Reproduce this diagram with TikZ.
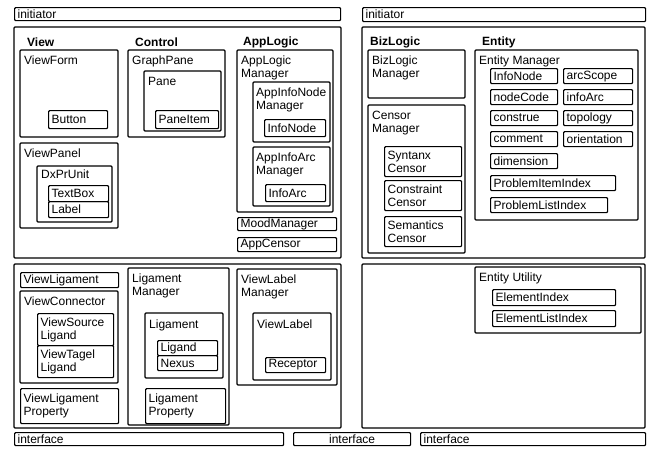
\documentclass[tikz,border=0pt]{standalone}
\usepackage{fontspec}
\setmainfont{Liberation Sans}
\begin{document}
\begin{tikzpicture}[x=1pt,y=-1pt,
  every node/.style={font=\fontsize{12}{13}\selectfont},
  box/.style={line width=1.2pt,rounded corners=1pt},
  lbl/.style={anchor=north west,inner sep=1pt,align=left},
  head/.style={anchor=west,inner sep=0pt,font=\fontsize{12}{13}\selectfont\bfseries},
  item/.style={draw,line width=1.2pt,rounded corners=1pt,anchor=north west,inner xsep=3pt,inner ysep=0pt,align=left}]
\useasboundingbox (0,0) rectangle (651,450);
% bars
\node[item,text width=320pt,minimum height=13pt] (initL) at (14,7) {initiator};
\node[item,text width=277pt,minimum height=14pt] (initR) at (362,7) {initiator};
\node[item,text width=263pt,minimum height=13pt] (ifaceL) at (14,432) {interface};
\node[item,text width=111pt,minimum height=13pt,align=center] (ifaceM) at (293,432) {interface};
\node[item,text width=219pt,minimum height=13pt] (ifaceR) at (420,432) {interface};
% panels
\draw[box] (14,27) rectangle (341,258); \draw[box] (362,27) rectangle (645,258);
\draw[box] (14,264) rectangle (341,428); \draw[box] (362,264) rectangle (645,428);
\node[head] (hview) at (27,42) {View}; \node[head] (hctrl) at (135,42) {Control};
\node[head] (happ) at (243,42) {AppLogic}; \node[head] (hbiz) at (370,42) {BizLogic};
\node[head] (hent) at (482,42) {Entity};
% view / control
\draw[box] (20,50) rectangle (118,137); \node[lbl] (viewform) at (23,55) {ViewForm};
\node[item,text width=53pt,minimum height=18pt] (button) at (48,110) {Button};
\draw[box] (20,143) rectangle (118,228); \node[lbl] (viewpanel) at (23,148) {ViewPanel};
\draw[box] (37,166) rectangle (112,222); \node[lbl] (dxprunit) at (40,169) {DxPrUnit};
\node[item,text width=54pt,minimum height=16pt] (textbox) at (48,185) {TextBox};
\node[item,text width=54pt,minimum height=16pt] (label) at (48,201) {Label};
\draw[box] (128,50) rectangle (225,137); \node[lbl] (graphpane) at (131,55) {GraphPane};
\draw[box] (144,71) rectangle (221,131); \node[lbl] (pane) at (147,76) {Pane};
\node[item,text width=57pt,minimum height=18pt] (paneitem) at (155,110) {PaneItem};
% applogic
\draw[box] (237,50) rectangle (333,212); \node[lbl] (applogicmgr) at (240,55) {AppLogic\\Manager};
\draw[box] (253,82) rectangle (330,142); \node[lbl] (appnodemgr) at (255,87) {AppInfoNode\\Manager};
\node[item,text width=55pt,minimum height=17pt] (infonode) at (264,119) {InfoNode};
\draw[box] (253,147) rectangle (330,206); \node[lbl] (apparcmgr) at (255,152) {AppInfoArc\\Manager};
\node[item,text width=54pt,minimum height=17pt] (infoarc) at (265,184) {InfoArc};
\node[item,text width=93pt,minimum height=13pt] (moodmgr) at (237,217) {MoodManager};
\node[item,text width=93pt,minimum height=14pt] (appcensor) at (237,237) {AppCensor};
% ligament
\node[item,text width=92pt,minimum height=15pt] (viewlig) at (20,272) {ViewLigament};
\draw[box] (20,291) rectangle (118,383); \node[lbl] (viewconn) at (23,296) {ViewConnector};
\node[item,text width=70pt,minimum height=32pt] (viewsrc) at (37,313) {ViewSource\\Ligand};
\node[item,text width=70pt,minimum height=32pt] (viewtgt) at (37,345) {ViewTagel\\Ligand};
\node[item,text width=92pt,minimum height=35pt] (viewligprop) at (20,388) {ViewLigament\\Property};
\draw[box] (128,268) rectangle (229,425); \node[lbl] (ligmgr) at (131,273) {Ligament\\Manager};
\draw[box] (145,313) rectangle (223,378); \node[lbl] (ligament) at (148,319) {Ligament};
\node[item,text width=54pt,minimum height=15pt] (ligand) at (157,340) {Ligand};
\node[item,text width=54pt,minimum height=15pt] (nexus) at (157,355) {Nexus};
\node[item,text width=74pt,minimum height=35pt] (ligprop) at (145,388) {Ligament\\Property};
\draw[box] (237,269) rectangle (337,385); \node[lbl] (viewlabelmgr) at (240,274) {ViewLabel\\Manager};
\draw[box] (253,313) rectangle (331,380); \node[lbl] (viewlabel) at (256,319) {ViewLabel};
\node[item,text width=54pt,minimum height=15pt] (receptor) at (265,357) {Receptor};
% bizlogic
\draw[box] (368,50) rectangle (465,98); \node[lbl] (bizmgr) at (371,55) {BizLogic\\Manager};
\draw[box] (368,105) rectangle (465,253); \node[lbl] (censormgr) at (371,110) {Censor\\Manager};
\node[item,text width=71pt,minimum height=30pt] (syncensor) at (384,146) {Syntanx\\Censor};
\node[item,text width=71pt,minimum height=30pt] (concensor) at (384,180) {Constraint\\Censor};
\node[item,text width=71pt,minimum height=30pt] (semcensor) at (384,216) {Semantics\\Censor};
% entity
\draw[box] (475,50) rectangle (638,220); \node[lbl] (entitymgr) at (478,55) {Entity Manager};
\node[item,text width=61pt,minimum height=15pt] (enode) at (490,68) {InfoNode};
\node[item,text width=63pt,minimum height=15pt] (escope) at (563,68) {arcScope};
\node[item,text width=61pt,minimum height=15pt] (ecode) at (490,89) {nodeCode};
\node[item,text width=63pt,minimum height=15pt] (earc) at (563,89) {infoArc};
\node[item,text width=61pt,minimum height=15pt] (econstrue) at (490,110) {construe};
\node[item,text width=63pt,minimum height=15pt] (etopo) at (563,110) {topology};
\node[item,text width=61pt,minimum height=15pt] (ecomment) at (490,131) {comment};
\node[item,text width=63pt,minimum height=15pt] (eorient) at (563,131) {orientation};
\node[item,text width=61pt,minimum height=15pt] (edim) at (490,153) {dimension};
\node[item,text width=119pt,minimum height=15pt] (eprobitem) at (490,175) {ProblemItemIndex};
\node[item,text width=111pt,minimum height=15pt] (eproblist) at (490,197) {ProblemListIndex};
\draw[box] (475,267) rectangle (641,333); \node[lbl] (entityutil) at (478,272) {Entity Utility};
\node[item,text width=117pt,minimum height=16pt] (elemidx) at (492,289) {ElementIndex};
\node[item,text width=117pt,minimum height=16pt] (elemlist) at (492,310) {ElementListIndex};
\end{tikzpicture}
\end{document}
